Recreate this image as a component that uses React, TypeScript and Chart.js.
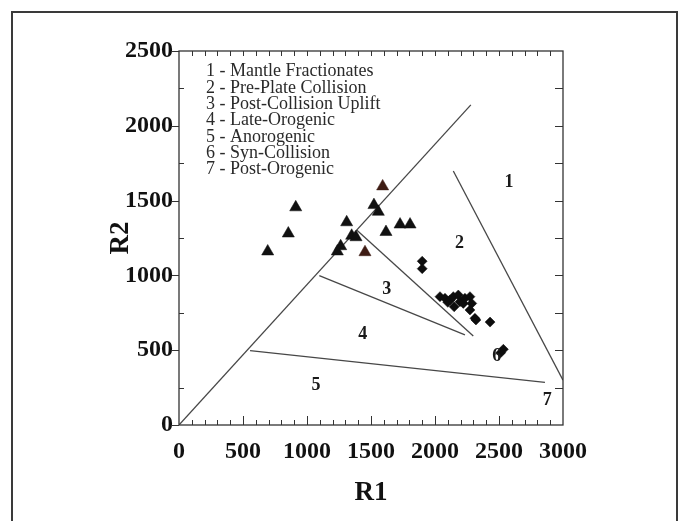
import React, { useEffect, useRef } from 'react';
import { Chart, registerables } from 'chart.js';

Chart.register(...registerables);

// ---- axis ticks ----
const xTickValues = [0, 500, 1000, 1500, 2000, 2500, 3000];
const yTickValues = [0, 500, 1000, 1500, 2000, 2500];

// ---- samples: triangles ----
const triangleR1 = [912, 1523, 1557, 1310, 854, 1617, 1727, 1805, 1349, 1383, 693, 1263, 1237];
const triangleR2 = [1455, 1470, 1425, 1355, 1280, 1290, 1340, 1340, 1265, 1255, 1160, 1195, 1160];
const brownTriangleR1 = [1591, 1453];
const brownTriangleR2 = [1595, 1155];

// ---- samples: diamonds ----
const diamondR1 = [1900, 1900, 2039, 2078, 2117, 2143, 2182, 2195, 2221, 2234, 2273, 2287, 2150, 2100, 2273, 2312, 2320, 2430, 2534, 2513];
const diamondR2 = [1095, 1045, 858, 847, 836, 858, 869, 824, 813, 847, 858, 813, 790, 820, 769, 713, 702, 688, 506, 483];

// ---- field boundaries (R1 pair, R2 pair) ----
const boundaryA_R1 = [0, 2280];
const boundaryA_R2 = [0, 2140];
const boundaryB_R1 = [2143, 3000];
const boundaryB_R2 = [1698, 300];
const boundaryC_R1 = [1388, 2299];
const boundaryC_R2 = [1303, 595];
const boundaryD_R1 = [1096, 2234];
const boundaryD_R2 = [998, 602];
const boundaryE_R1 = [555, 2859];
const boundaryE_R2 = [497, 285];

// ---- field numbers ----
const fieldLabels = ['1', '2', '3', '4', '5', '6', '7'];
const fieldR1 = [2578, 2192, 1623, 1435, 1070, 2482, 2877];
const fieldR2 = [1620, 1215, 910, 608, 267, 456, 163];

// ---- key ----
const keyLines = [
  '1 - Mantle Fractionates',
  '2 - Pre-Plate Collision',
  '3 - Post-Collision Uplift',
  '4 - Late-Orogenic',
  '5 - Anorogenic',
  '6 - Syn-Collision',
  '7 - Post-Orogenic',
];
const keyAnchorR1 = 211;
const keyAnchorR2 = 2362;

const SERIF = "'Liberation Serif', 'Times New Roman', serif";

const pts = (xs: number[], ys: number[]) => xs.map((x, i) => ({ x, y: ys[i] }));

const lineDs = (xs: number[], ys: number[]) => ({
  data: pts(xs, ys),
  showLine: true,
  pointRadius: 0,
  borderColor: '#474747',
  borderWidth: 1.3,
  backgroundColor: '#474747',
  order: 2,
});

const decoPlugin = {
  id: 'deco',
  beforeDraw(chart: any) {
    const ctx = chart.ctx;
    ctx.save();
    ctx.fillStyle = '#ffffff';
    ctx.fillRect(0, 0, chart.width, chart.height);
    ctx.strokeStyle = '#3a3a3a';
    ctx.lineWidth = 2;
    ctx.beginPath();
    ctx.moveTo(12, chart.height + 5);
    ctx.lineTo(12, 12);
    ctx.lineTo(677, 12);
    ctx.lineTo(677, chart.height + 5);
    ctx.stroke();
    ctx.restore();
  },
  afterDatasetsDraw(chart: any) {
    const ctx = chart.ctx;
    const xs = chart.scales.x;
    const ys = chart.scales.y;
    const { left, right, top, bottom } = chart.chartArea;
    ctx.save();
    // frame
    ctx.strokeStyle = '#333';
    ctx.lineWidth = 1.3;
    ctx.strokeRect(left, top, right - left, bottom - top);
    // ticks
    ctx.lineWidth = 1;
    ctx.beginPath();
    for (let v = 100; v < 3000; v += 100) {
      const px = Math.round(xs.getPixelForValue(v)) + 0.5;
      const major = v % 500 === 0;
      ctx.moveTo(px, bottom);
      ctx.lineTo(px, bottom - (major ? 9 : 5));
      ctx.moveTo(px, top);
      ctx.lineTo(px, top + 5);
    }
    for (let v = 0; v <= 2500; v += 250) {
      const py = Math.round(ys.getPixelForValue(v)) + 0.5;
      const major = v % 500 === 0;
      if (major) {
        ctx.moveTo(left - 7, py);
        ctx.lineTo(left, py);
      } else {
        ctx.moveTo(left, py);
        ctx.lineTo(left + 5, py);
      }
      if (v > 0 && v < 2500) {
        ctx.moveTo(right, py);
        ctx.lineTo(right - 8, py);
      }
    }
    ctx.stroke();
    // field numbers
    ctx.fillStyle = '#1a1a1a';
    ctx.font = `bold 18px ${SERIF}`;
    ctx.textAlign = 'center';
    ctx.textBaseline = 'middle';
    fieldLabels.forEach((t, i) => {
      ctx.fillText(t, xs.getPixelForValue(fieldR1[i]), ys.getPixelForValue(fieldR2[i]));
    });
    // key
    ctx.fillStyle = '#2a2a2a';
    ctx.font = `18px ${SERIF}`;
    ctx.textAlign = 'left';
    const kx = xs.getPixelForValue(keyAnchorR1);
    const ky = ys.getPixelForValue(keyAnchorR2);
    keyLines.forEach((t, i) => {
      ctx.fillText(t, kx, ky + i * 16.3);
    });
    ctx.restore();
  },
};

export default function App() {
  const ref = useRef<HTMLCanvasElement>(null);
  useEffect(() => {
    const canvas = ref.current;
    if (!canvas) return;
    const chart = new Chart(canvas, {
      type: 'scatter',
      data: {
        datasets: [
          lineDs(boundaryA_R1, boundaryA_R2),
          lineDs(boundaryB_R1, boundaryB_R2),
          lineDs(boundaryC_R1, boundaryC_R2),
          lineDs(boundaryD_R1, boundaryD_R2),
          lineDs(boundaryE_R1, boundaryE_R2),
          {
            data: pts(triangleR1, triangleR2),
            pointStyle: 'triangle',
            pointRadius: 7,
            backgroundColor: '#111111',
            borderColor: '#111111',
            borderWidth: 0.5,
            order: 1,
          },
          {
            data: pts(brownTriangleR1, brownTriangleR2),
            pointStyle: 'triangle',
            pointRadius: 7,
            backgroundColor: '#3e1c14',
            borderColor: '#3e1c14',
            borderWidth: 0.5,
            order: 1,
          },
          {
            data: pts(diamondR1, diamondR2),
            pointStyle: 'rectRot',
            pointRadius: 5,
            backgroundColor: '#0d0d0d',
            borderColor: '#0d0d0d',
            borderWidth: 0.5,
            order: 1,
          },
        ],
      } as any,
      options: {
        responsive: false,
        animation: false,
        events: [],
        layout: { padding: { left: 0, top: 51, right: 122, bottom: 0 } },
        plugins: { legend: { display: false }, tooltip: { enabled: false } },
        scales: {
          x: {
            type: 'linear',
            min: 0,
            max: 3000,
            grid: { display: false, drawTicks: false },
            border: { display: false },
            afterBuildTicks: (s: any) => {
              s.ticks = xTickValues.map((v) => ({ value: v }));
            },
            afterFit: (s: any) => {
              s.height = 96;
            },
            ticks: {
              padding: 12,
              color: '#111',
              font: { family: SERIF, size: 24, weight: 'bold' },
              callback: (v: any) => String(v),
              maxRotation: 0,
              autoSkip: false,
            },
            title: {
              display: true,
              text: 'R1',
              color: '#111',
              font: { family: SERIF, size: 27, weight: 'bold' },
              padding: { top: 0, bottom: 12 },
            },
          },
          y: {
            type: 'linear',
            min: 0,
            max: 2500,
            grid: { display: false, drawTicks: false },
            border: { display: false },
            afterBuildTicks: (s: any) => {
              s.ticks = yTickValues.map((v) => ({ value: v }));
            },
            afterFit: (s: any) => {
              s.width = 179;
            },
            ticks: {
              padding: 6,
              color: '#111',
              font: { family: SERIF, size: 24, weight: 'bold' },
              callback: (v: any) => String(v),
              autoSkip: false,
            },
            title: {
              display: true,
              text: 'R2',
              color: '#111',
              font: { family: SERIF, size: 27, weight: 'bold' },
              padding: { top: 105, bottom: 0 },
            },
          },
        },
      } as any,
      plugins: [decoPlugin],
    });
    return () => chart.destroy();
  }, []);
  return (
    <div style={{ position: 'absolute', left: 0, top: 0, width: 685, height: 521, background: '#fff' }}>
      <canvas ref={ref} width={685} height={521} style={{ display: 'block', width: 685, height: 521 }} />
    </div>
  );
}
